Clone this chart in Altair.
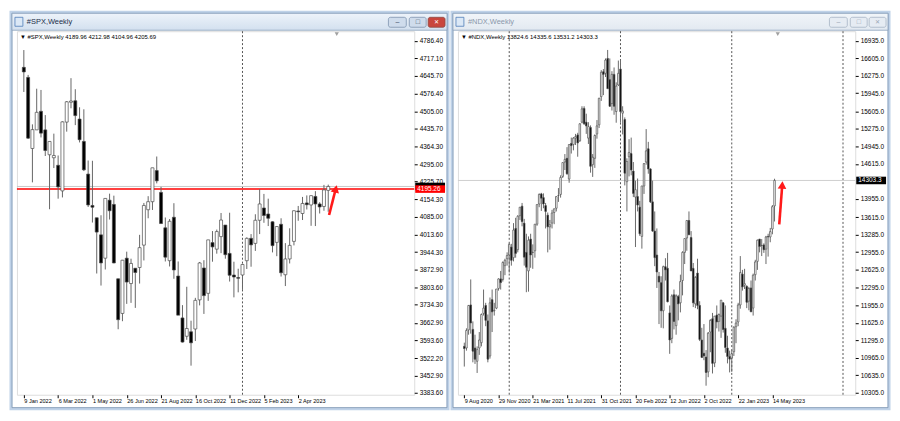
import altair as alt
import pandas as pd

# ---------------- #SPX, Weekly (bar 0 = week of 9 Jan 2022, last = 21 May 2023) ----------------
SPX_OPEN = [4680, 4640, 4357, 4431, 4505, 4431, 4332, 4320, 4290, 4188, 4462, 4541, 4547, 4474, 4385, 4255,
            4130, 4081, 4013, 3920, 4151, 4134, 3838, 3700, 3920, 3819, 3880, 3883, 3972, 4113, 4145, 4269,
            4182, 4041, 3910, 4083, 3849, 3682, 3609, 3627, 3638, 3754, 3881, 3780, 3982, 3956, 4006, 4052,
            3939, 3853, 3843, 3853, 3910, 3999, 3979, 4071, 4120, 4096, 4065, 3983, 4055, 3854, 3917, 3987,
            4108, 4098, 4140, 4132, 4166, 4136, 4126, 4189.96]
SPX_HIGH = [4749, 4650, 4453, 4595, 4590, 4490, 4385, 4416, 4329, 4465, 4546, 4637, 4593, 4521, 4513, 4309,
            4308, 4081, 4091, 4158, 4177, 4169, 3838, 3913, 3946, 3918, 3880, 4013, 4140, 4167, 4280, 4325,
            4204, 4082, 4076, 4139, 3907, 3733, 3806, 3671, 3762, 3905, 3912, 3993, 4028, 4034, 4100, 4052,
            4101, 3906, 3878, 3896, 4003, 4016, 4095, 4195, 4176, 4157, 4067, 4048, 4079, 3980, 4039, 4110,
            4128, 4164, 4170, 4170, 4187, 4143, 4212, 4212.98]
SPX_LOW = [4582, 4395, 4222, 4431, 4401, 4327, 4115, 4279, 4157, 4162, 4424, 4517, 4450, 4381, 4267, 4124,
           4062, 3859, 3811, 3875, 4074, 3900, 3637, 3669, 3738, 3742, 3722, 3819, 3911, 4079, 4112, 4218,
           4057, 3907, 3887, 3838, 3694, 3584, 3595, 3492, 3590, 3732, 3698, 3750, 3906, 3938, 3940, 3918,
           3827, 3764, 3784, 3794, 3877, 3886, 3949, 4016, 4061, 4048, 3943, 3928, 3847, 3809, 3899, 3971,
           4069, 4072, 4114, 4049, 4048, 4098, 4109, 4104.96]
SPX_CLOSE = [4662, 4398, 4432, 4501, 4418, 4349, 4385, 4329, 4204, 4463, 4543, 4546, 4488, 4392, 4272, 4132,
             4123, 4024, 3901, 4158, 4109, 3901, 3675, 3912, 3825, 3899, 3863, 3962, 4130, 4145, 4280, 4228,
             4058, 3924, 4067, 3873, 3693, 3586, 3640, 3583, 3752, 3901, 3771, 3993, 3965, 4026, 4072, 3934,
             3852, 3845, 3840, 3895, 3999, 3973, 4071, 4136, 4090, 4079, 3970, 4046, 3862, 3917, 3971, 4109,
             4105, 4138, 4133, 4169, 4136, 4124, 4192, 4205.69]
SPX_X_LABELS = ["9 Jan 2022", "6 Mar 2022", "1 May 2022", "26 Jun 2022", "21 Aug 2022",
                "16 Oct 2022", "11 Dec 2022", "5 Feb 2023", "2 Apr 2023"]
SPX_Y_TICKS = [4786.40, 4717.10, 4645.70, 4576.40, 4505.00, 4435.70, 4364.30, 4295.00, 4225.70, 4154.30,
               4085.00, 4013.60, 3944.30, 3872.90, 3803.60, 3734.30, 3662.90, 3593.60, 3522.20, 3452.90, 3383.60]
SPX_YEAR_BREAKS = [51]
SPX_LEVEL = 4195.26
SPX_LAST = 4205.69
SPX_ARROW_IDX = [71.2, 72.75]
SPX_ARROW_PRICE = [4092, 4196]

# ---------------- #NDX, Weekly (bar 0 = week of 9 Aug 2020, last = 21 May 2023) ----------------
NDX_OPEN = [11180, 11150, 11490, 11960, 11500, 11150, 10900, 11150, 11250, 11800, 11950, 11660, 11000, 12060,
            11850, 11900, 12270, 12450, 12440, 12700, 12830, 12900, 13050, 12850, 13400, 13000, 13640, 13820,
            13500, 12950, 12600, 13200, 12950, 12980, 13480, 13860, 14050, 13980, 13830, 13650, 13430, 13500,
            13700, 13780, 14020, 14040, 14380, 14650, 14720, 14330, 15000, 14980, 15100, 15160, 15050, 15400,
            15660, 15400, 15100, 15300, 14600, 14720, 15180, 15350, 15880, 16350, 16320, 16600, 16200, 15750,
            16300, 15600, 16100, 16400, 15570, 15450, 14280, 14750, 14810, 14480, 13990, 14000, 13800, 13250,
            14200, 14650, 14900, 14520, 13900, 13350, 12900, 12500, 12380, 11850, 12680, 12650, 11810, 11330,
            12150, 11570, 12120, 12000, 12420, 12950, 13220, 13550, 13230, 12650, 11980, 12560, 11950, 11300,
            11050, 10980, 10700, 11450, 11700, 10870, 11770, 11650, 11750, 12000, 11520, 11150, 10990, 10960,
            11080, 11550, 11640, 11960, 12540, 12330, 12310, 12030, 12280, 11900, 12530, 12780, 13200, 13080,
            13090, 13010, 13250, 13240, 13390, 13824.6]
NDX_HIGH = [11250, 11520, 11960, 12440, 11650, 11400, 11180, 11450, 11800, 12250, 12000, 11780, 12100, 12250,
            12000, 12260, 12460, 12600, 12780, 12830, 12950, 13120, 13110, 13500, 13600, 13650, 13800, 13880,
            13580, 13300, 13250, 13300, 13100, 13480, 13850, 14060, 14070, 14060, 13880, 13700, 13560, 13750,
            13770, 14000, 14160, 14400, 14640, 14800, 14930, 14980, 15110, 15120, 15180, 15200, 15380, 15700,
            15700, 15560, 15400, 15340, 14800, 15170, 15440, 15860, 16380, 16400, 16600, 16760, 16600, 16360,
            16430, 16150, 16560, 16580, 15700, 15490, 14720, 15080, 15110, 14650, 14300, 14340, 13920, 14200,
            14630, 15270, 15030, 14530, 14300, 13720, 13400, 12580, 12500, 12700, 12840, 12940, 11950, 12160,
            12250, 12160, 12150, 12530, 12970, 13210, 13550, 13720, 13350, 12750, 12500, 12830, 12030, 11530,
            11600, 11110, 11450, 11690, 11810, 11750, 11950, 11800, 12050, 12010, 11950, 11380, 11100, 11100,
            11560, 11690, 12000, 12880, 12620, 12640, 12330, 12300, 12420, 12550, 12810, 13190, 13200, 13200,
            13120, 13260, 13300, 13410, 13840, 14335.6]
NDX_LOW = [10800, 11100, 11400, 11420, 10880, 10850, 10680, 11020, 11180, 11760, 11560, 10880, 10950, 11450,
           11760, 11880, 12230, 12250, 12400, 12520, 12700, 12570, 12700, 12780, 12850, 12950, 13560, 13440,
           12700, 12200, 12210, 12660, 12640, 12850, 13450, 13800, 13730, 13780, 13400, 12950, 13000, 13400,
           13480, 13720, 13900, 13980, 14350, 14500, 14410, 14260, 14810, 14870, 14970, 14750, 15030, 15380,
           15350, 15180, 14990, 14450, 14370, 14540, 15090, 15290, 15800, 15910, 16250, 16170, 15690, 15620,
           15540, 15390, 16080, 15390, 15170, 14210, 13720, 14380, 14400, 13990, 13050, 13720, 13260, 13020,
           14050, 14600, 14430, 13880, 13340, 12690, 12280, 11600, 11530, 11520, 12420, 12010, 11040, 11240,
           11500, 11400, 11670, 11820, 12140, 12730, 12980, 13280, 12600, 11920, 11900, 11880, 11280, 10970,
           10920, 10440, 10600, 11070, 10670, 10790, 11520, 11460, 11340, 11440, 11060, 10860, 10690, 10700,
           11000, 11240, 11560, 11890, 12230, 12260, 11900, 11860, 11830, 11760, 12420, 12620, 12950, 12880,
           12940, 12730, 12870, 13140, 13290, 13531.2]
NDX_CLOSE = [11140, 11480, 11950, 11620, 11090, 10940, 11120, 11300, 11780, 11900, 11670, 10940, 12000, 11830,
             11860, 12260, 12450, 12380, 12760, 12800, 12890, 13100, 12800, 13370, 12930, 13630, 13800, 13530,
             12860, 12670, 13180, 12900, 12950, 13480, 13850, 14040, 13970, 13860, 13720, 13430, 13470, 13690,
             13770, 14000, 14020, 14360, 14640, 14700, 14430, 14980, 14960, 15100, 15130, 15010, 15370, 15650,
             15370, 15330, 15320, 14570, 14740, 15150, 15330, 15850, 16340, 16300, 16570, 16030, 15700, 16300,
             15700, 16080, 16320, 15600, 15610, 14440, 14660, 14830, 14500, 14060, 14130, 13840, 13300, 14200,
             14620, 14860, 14520, 13900, 13350, 12850, 12580, 12390, 11850, 12680, 12620, 12020, 11300, 12130,
             11650, 12130, 11980, 12400, 12950, 13210, 13550, 13280, 12600, 12000, 12480, 11950, 11310, 10970,
             11000, 10690, 11430, 11670, 10860, 11750, 11640, 11780, 12050, 11500, 11160, 10990, 10940, 11040,
             11540, 11620, 11960, 12570, 12300, 12360, 12010, 12270, 11830, 12520, 12770, 13180, 13060, 13080,
             13000, 13240, 13240, 13340, 13810, 14303.3]
NDX_X_LABELS = ["9 Aug 2020", "29 Nov 2020", "21 Mar 2021", "11 Jul 2021", "31 Oct 2021",
                "20 Feb 2022", "12 Jun 2022", "2 Oct 2022", "22 Jan 2023", "14 May 2023"]
NDX_Y_TICKS = [16935, 16605, 16275, 15945, 15605, 15275, 14945, 14615, 13955, 13615, 13285,
               12955, 12625, 12295, 11955, 11625, 11295, 10965, 10635, 10305]
NDX_YEAR_BREAKS = [21, 73, 125, 177]
NDX_LAST = 14303.3
NDX_ARROW_IDX = [147.2, 148.6]
NDX_ARROW_PRICE = [13475, 14218]

W, H = 400, 366
FONT = "Liberation Sans"
ONE = pd.DataFrame({"k": [0]})


def deco_rect(x0, x1, y0, y1, **kw):
    return alt.Chart(ONE).mark_rect(**kw).encode(
        x=alt.value(x0), x2=alt.value(x1), y=alt.value(y0), y2=alt.value(y1))


def deco_text(x, y, txt, **kw):
    return alt.Chart(ONE).mark_text(text=txt, **kw).encode(x=alt.value(x), y=alt.value(y))


def panel(name, o, h, l, c, ydom, xdom, yticks, yfmt, xlabels, xstep, breaks, header,
          body_w, up_fill, dn_fill, body_stroke, wick_col, active, arrow_idx, arrow_price,
          arrow_angle, boxes, hlines):
    df = pd.DataFrame({"open": o, "high": h, "low": l, "close": c})
    df["idx"] = list(range(len(df)))
    df["dir"] = ["up" if cc >= oo else "down" for oo, cc in zip(o, c)]

    xs = alt.Scale(domain=xdom, nice=False, zero=False)
    ys = alt.Scale(domain=ydom, nice=False, zero=False)
    arr = "[" + ",".join("'%s'" % s for s in xlabels) + "]"
    xax = alt.Axis(values=[i * xstep for i in range(len(xlabels))],
                   labelExpr=f"{arr}[round(datum.value/{xstep})]", title=None, grid=False,
                   domain=False, tickSize=3, tickColor="#000", labelAlign="left",
                   labelBaseline="top", labelFont=FONT, labelFontSize=5.6, labelColor="#000",
                   labelPadding=1, labelOverlap=False, labelFlush=False)
    yax = alt.Axis(values=yticks, format=yfmt, orient="right", title=None, grid=False,
                   domain=False, tickSize=3, tickColor="#000", labelFont=FONT, labelFontSize=6.5,
                   labelColor="#000", labelPadding=2, labelOverlap=False, labelFlush=False)

    def X(f):
        return alt.X(f"{f}:Q", scale=xs, axis=xax)

    def Y(f):
        return alt.Y(f"{f}:Q", scale=ys, axis=yax)

    layers = []
    # window chrome
    grad = alt.LinearGradient(
        gradient="linear", x1=0, x2=0, y1=0, y2=1,
        stops=[alt.GradientStop(color="#edf3fa" if active else "#f1f5f9", offset=0),
               alt.GradientStop(color="#d3e0ef" if active else "#e2e9f1", offset=1)])
    layers.append(deco_rect(-6, W + 34, -19, H + 14, fillOpacity=0, stroke="#bfd2e8", strokeWidth=3))
    layers.append(deco_rect(-5, W + 33, -18, H + 13, fillOpacity=0, stroke="#7f96b2", strokeWidth=0.8))
    layers.append(deco_rect(-5, W + 33, -18, -1, fill=grad, stroke="#8aa0bb", strokeWidth=0.8))
    layers.append(deco_rect(-2, 6, -14, -5, fill="#dbe8f6", stroke="#4f7db8", strokeWidth=0.8))
    layers.append(deco_text(10, -9, name, align="left", baseline="middle", font=FONT, fontSize=7.5,
                            color="#1c2f4a" if active else "#8a98ab"))
    bfill = "#cfdcec" if active else "#e6ecf3"
    bstroke = "#7d93ae" if active else "#a5b3c4"
    layers.append(deco_rect(W - 26, W - 8, -14, -4, fill=bfill, stroke=bstroke, strokeWidth=0.8,
                            cornerRadius=2))
    layers.append(deco_rect(W - 5, W + 12, -14, -4, fill=bfill, stroke=bstroke, strokeWidth=0.8,
                            cornerRadius=2))
    layers.append(deco_rect(W + 14, W + 31, -14, -4, fill="#c9463d" if active else bfill,
                            stroke="#8c4a44" if active else bstroke, strokeWidth=0.8, cornerRadius=2))
    gcol = "#3d4f66" if active else "#9aa6b5"
    layers.append(deco_text(W - 17, -9, "–", align="center", baseline="middle", fontSize=7, color=gcol))
    layers.append(deco_text(W + 3.5, -9, "□", align="center", baseline="middle", fontSize=7, color=gcol))
    layers.append(deco_text(W + 22.5, -9, "✕", align="center", baseline="middle", fontSize=6,
                            color="white" if active else gcol))

    # period separators
    layers.append(alt.Chart(pd.DataFrame({"idx": breaks})).mark_rule(
        color="#555", strokeDash=[2, 2], strokeWidth=1).encode(x=X("idx")))
    # horizontal lines
    for price, col, sw in hlines:
        layers.append(alt.Chart(pd.DataFrame({"price": [price]})).mark_rule(
            color=col, strokeWidth=sw).encode(y=Y("price")))
    # candles
    base = alt.Chart(df)
    layers.append(base.mark_rule(color=wick_col, strokeWidth=1).encode(
        x=X("idx"), y=Y("low"), y2="high"))
    layers.append(base.mark_bar(size=body_w, stroke=body_stroke, strokeWidth=0.7).encode(
        x=X("idx"), y=Y("open"), y2="close",
        fill=alt.Fill("dir:N", scale=alt.Scale(domain=["up", "down"], range=[up_fill, dn_fill]),
                      legend=None)))
    # red arrow
    adf = pd.DataFrame({"idx": arrow_idx, "price": arrow_price})
    layers.append(alt.Chart(adf).mark_line(color="#ff1a1a", strokeWidth=2.6).encode(
        x=X("idx"), y=Y("price")))
    layers.append(alt.Chart(adf.tail(1)).mark_point(
        shape="triangle-up", filled=True, color="#ff1a1a", size=75, opacity=1,
        angle=arrow_angle).encode(x=X("idx"), y=Y("price")))
    # price tags on the scale (marks are drawn over the axis labels)
    for price, bg, txt in boxes:
        bdf = pd.DataFrame({"price": [price], "label": [txt]})
        layers.append(alt.Chart(bdf).mark_rect(color=bg, yOffset=-3.8, y2Offset=3.8).encode(
            y=Y("price"), y2="price", x=alt.value(W + 1), x2=alt.value(W + 31)))
        if txt:
            layers.append(alt.Chart(bdf).mark_text(
                align="left", baseline="middle", font=FONT, fontSize=6.5, color="white").encode(
                y=Y("price"), x=alt.value(W + 3), text="label:N"))
    # header and shift marker
    layers.append(deco_text(3, 6, header, align="left", baseline="middle", font=FONT, fontSize=6,
                            color="#000"))
    layers.append(alt.Chart(ONE).mark_point(shape="triangle-down", filled=True, color="#a0a0a0",
                                            size=18, opacity=1).encode(
        x=alt.value(322), y=alt.value(3)))

    return alt.layer(*layers).properties(width=W, height=H)


spx = panel("#SPX,Weekly", SPX_OPEN, SPX_HIGH, SPX_LOW, SPX_CLOSE,
            [3376.1, 4824.0], [-0.45, 89.9], SPX_Y_TICKS, ".2f", SPX_X_LABELS, 8, SPX_YEAR_BREAKS,
            "▼ #SPX,Weekly  4189.96 4212.98 4104.96 4205.69",
            3, "#ffffff", "#000000", "#4a4a4a", "#666666", True,
            SPX_ARROW_IDX, SPX_ARROW_PRICE, 15,
            [(SPX_LAST, "#000000", ""), (SPX_LEVEL, "#ff0000", "4195.26")],
            [(SPX_LAST, "#c8c8c8", 1), (SPX_LEVEL, "#ff0000", 1.6)])

ndx = panel("#NDX,Weekly", NDX_OPEN, NDX_HIGH, NDX_LOW, NDX_CLOSE,
            [10269.5, 17112.7], [-0.65, 180.4], NDX_Y_TICKS, ".1f", NDX_X_LABELS, 16, NDX_YEAR_BREAKS,
            "▼ #NDX,Weekly  13824.6 14335.6 13531.2 14303.3",
            1.6, "#858585", "#1e1e1e", "#4f4f4f", "#6a6a6a", False,
            NDX_ARROW_IDX, NDX_ARROW_PRICE, 4,
            [(NDX_LAST, "#000000", "14303.3")],
            [(NDX_LAST, "#cfcfcf", 1)])

chart = alt.hconcat(spx, ndx, spacing=0, padding={"left": 1, "top": 1, "right": 1, "bottom": 1}
                    ).configure_view(stroke="#000000", strokeWidth=1
                    ).configure(background="white")

chart.save("out.html", embed_options={"renderer": "svg", "actions": False})
